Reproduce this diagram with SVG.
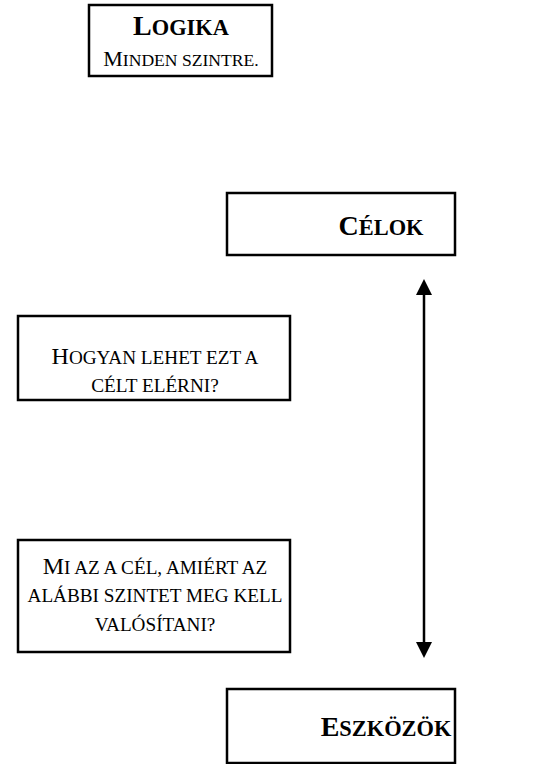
<svg xmlns="http://www.w3.org/2000/svg" width="544" height="764" viewBox="0 0 544 764">
<defs>
<style>
.box{fill:#fff;stroke:#000;stroke-width:2.5}
.t{font-family:"Liberation Serif","Times New Roman",serif;fill:#000;text-anchor:middle}
.b{font-weight:bold}
.cap{font-size:24px}
.sc{font-size:19.2px}
.bcap{font-size:28px}
.bsc{font-size:22.4px}
.conn{stroke:#000;stroke-width:2.5;fill:none}
</style>
<marker id="ah" viewBox="0 0 16 16" refX="2" refY="8" markerWidth="16" markerHeight="16" markerUnits="userSpaceOnUse" orient="auto-start-reverse">
<path d="M0,0 L16,8 L0,16 Z" fill="#000"/>
</marker>
</defs>
<g id="logika">
<rect class="box" x="89" y="5" width="183" height="71"/>
<text class="t b" x="181" y="35"><tspan class="bcap">L</tspan><tspan class="bsc">OGIKA</tspan></text>
<text class="t" x="181" y="66"><tspan font-size="22">M</tspan><tspan font-size="17.6">INDEN SZINTRE.</tspan></text>
</g>
<g id="celok">
<rect class="box" x="227" y="193" width="228" height="62"/>
<text class="t b" x="381" y="235"><tspan class="bcap">C</tspan><tspan class="bsc">ÉLOK</tspan></text>
</g>
<g id="hogyan">
<rect class="box" x="18" y="316" width="272" height="84"/>
<text class="t" x="155" y="364"><tspan class="cap">H</tspan><tspan class="sc">OGYAN LEHET EZT A</tspan></text>
<text class="t" x="155" y="392"><tspan class="sc">CÉLT ELÉRNI?</tspan></text>
</g>
<g id="miaz">
<rect class="box" x="18" y="540" width="272" height="112"/>
<text class="t" x="155" y="574"><tspan class="cap">M</tspan><tspan class="sc">I AZ A CÉL, AMIÉRT AZ</tspan></text>
<text class="t" x="155" y="602"><tspan class="sc">ALÁBBI SZINTET MEG KELL</tspan></text>
<text class="t" x="155" y="631"><tspan class="sc">VALÓSÍTANI?</tspan></text>
</g>
<g id="eszkozok">
<rect class="box" x="227" y="689" width="228" height="74"/>
<text class="t b" x="386" y="736"><tspan class="bcap">E</tspan><tspan class="bsc">SZKÖZÖK</tspan></text>
</g>
<g id="connectors">
<line class="conn" x1="424" y1="293" x2="424" y2="644" marker-start="url(#ah)" marker-end="url(#ah)"/>
</g>
</svg>
